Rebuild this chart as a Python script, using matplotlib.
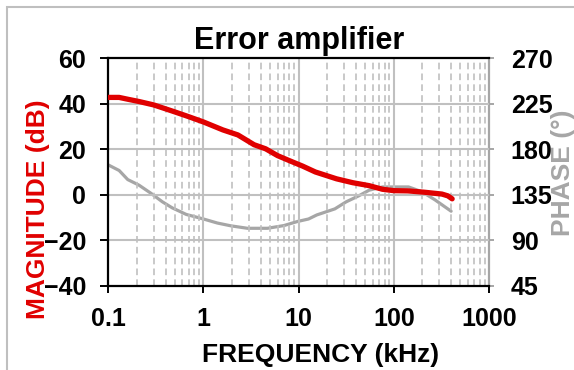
import numpy as np
import matplotlib
matplotlib.use("Agg")
import matplotlib.pyplot as plt
from matplotlib.patches import Rectangle
from matplotlib.ticker import FixedLocator, NullFormatter

plt.rcParams['font.family'] = ['Liberation Sans', 'DejaVu Sans']
plt.rcParams['font.weight'] = 'bold'

# data
mag_freq = [0.1, 0.13, 0.16, 0.21, 0.3, 0.47, 0.67, 1.0, 1.6, 2.3, 3.4, 4.5, 6.0,
            8.2, 11, 15, 25, 37, 55, 76, 100, 140, 210, 320, 370, 410]
mag_db = [42.8, 42.8, 42.0, 41.0, 39.5, 36.8, 34.6, 32.0, 28.5, 26.3, 22.0, 20.2, 17.2,
          14.8, 12.6, 10.0, 7.0, 5.3, 4.0, 2.4, 1.8, 1.7, 1.1, 0.3, -0.5, -1.8]

ph_freq = [0.1, 0.13, 0.16, 0.21, 0.28, 0.37, 0.47, 0.66, 1.0, 1.4, 1.95, 2.9, 4.7,
           7, 9.7, 12.7, 15.5, 24, 31.6, 43, 55, 76, 143, 197, 270, 400]
ph_deg = [164.5, 159, 150, 144.5, 136.5, 128, 122, 115.5, 111, 107, 104.2, 101.8, 101.8,
          104.5, 108.5, 111, 115, 121, 128, 134, 139.5, 142.7, 142.7, 138, 130, 118.7]

x_ticks = [0.1, 1, 10, 100, 1000]
x_ticklabels = ['0.1', '1', '10', '100', '1000']
mag_ticks = [-40, -20, 0, 20, 40, 60]
ph_ticks = [45, 90, 135, 180, 225, 270]

red = '#e00000'
gray = '#a6a6a6'
grid_c = '#c0c0c0'

W, H = 574, 370
fig = plt.figure(figsize=(W / 100, H / 100), dpi=100)
ax = fig.add_axes([108.3 / W, 1 - 285.7 / H, (489 - 108.3) / W, (285.7 - 58.3) / H])
ax2 = ax.twinx()

ax.set_xscale('log')
ax.set_xlim(0.1, 1000)
ax.set_ylim(-40, 60)
ax2.set_ylim(45, 270)

# grid: dashed minor, solid major
minor = [m * 10.0 ** e for e in range(-1, 3) for m in range(2, 10)]
for v in minor:
    ax.axvline(v, color=grid_c, lw=1.2, ls=(0, (4, 2.5)), zorder=0)
for v in [1, 10, 100]:
    ax.axvline(v, color=grid_c, lw=1.5, zorder=0)
for v in [-20, 0, 20, 40]:
    ax.axhline(v, color=grid_c, lw=1.5, zorder=0)

# phase goes on ax2, put ax (magnitude) on top so red stays above gray
ax2.plot(ph_freq, ph_deg, color=gray, lw=2.3, solid_capstyle='round', zorder=3)
ax.plot(mag_freq, mag_db, color=red, lw=3.8, solid_capstyle='round', zorder=4)
ax.set_zorder(ax2.get_zorder() + 1)
ax.patch.set_visible(False)

ax.set_xticks(x_ticks)
ax.set_xticklabels(x_ticklabels)
ax.xaxis.set_minor_locator(FixedLocator([]))
ax.xaxis.set_minor_formatter(NullFormatter())
ax.set_yticks(mag_ticks)
ax2.set_yticks(ph_ticks)

ax.tick_params(axis='y', direction='out', length=5.8, width=1.4, pad=10, labelsize=18, colors='black')
ax.tick_params(axis='x', direction='out', length=5, width=1.4, pad=10, labelsize=18)
ax2.tick_params(axis='y', direction='out', length=3.6, width=1.4, pad=12, labelsize=18,
                color=gray, labelcolor='black')

for s in ['left', 'bottom', 'top']:
    ax.spines[s].set_color('black')
    ax.spines[s].set_linewidth(1.6)
ax.spines['right'].set_visible(False)
for s in ['left', 'bottom', 'top']:
    ax2.spines[s].set_visible(False)
ax2.spines['right'].set_color(gray)
ax2.spines['right'].set_linewidth(1.6)

fig.text(299 / W, 1 - 49.5 / H, 'Error amplifier', ha='center', va='baseline',
         fontsize=22, fontweight='bold')
fig.text(320.5 / W, 1 - 362 / H, 'FREQUENCY (kHz)', ha='center', va='baseline',
         fontsize=19, fontweight='bold')
fig.text(38 / W, 1 - 209 / H, 'MAGNITUDE (dB)', ha='center', va='center', rotation=90,
         fontsize=19, fontweight='bold', color=red)
fig.text(563 / W, 1 - 173 / H, 'PHASE (°)', ha='center', va='center', rotation=90,
         fontsize=19, fontweight='bold', color=gray)

# light frame around the chart (runs off the right and bottom edges)
fig.add_artist(Rectangle((7 / W, -0.1), 2, 1.1 - 7 / H, transform=fig.transFigure,
                         fill=False, edgecolor='#bfbfbf', lw=1.5, clip_on=False))

fig.savefig('out.png', dpi=100)
